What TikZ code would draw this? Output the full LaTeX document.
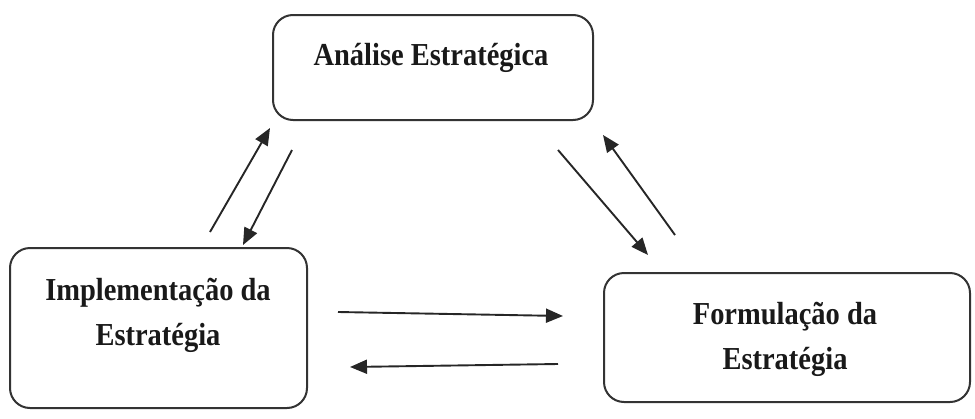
\documentclass[tikz,border=0pt]{standalone}
\usepackage{fontspec}
\setmainfont{Liberation Serif}
\newfontfamily\labelfont[FakeStretch=0.89]{Liberation Serif}
\usetikzlibrary{arrows.meta}
\begin{document}
\begin{tikzpicture}[x=1pt,y=-1pt,
  box/.style={draw=black!80, line width=2pt, rounded corners=20pt, inner sep=0pt},
  lbl/.style={font=\labelfont\bfseries\fontsize{32}{45}\selectfont, align=center, text=black!90, inner sep=0pt},
  conn/.style={draw=black!85, line width=1.9pt, -{Triangle[length=17pt,width=14pt]}}]
\useasboundingbox (0,0) rectangle (975,418);
% boxes
\node[box, minimum width=320pt, minimum height=105pt] (ana) at (433,67.5) {};
\node[box, minimum width=297pt, minimum height=160pt] (imp) at (158.5,328) {};
\node[box, minimum width=366pt, minimum height=129pt] (form) at (787,337.5) {};
% labels
\node[lbl] (anaT) at (431,58) {Análise Estratégica};
\node[lbl] (impT) at (158,315) {Implementação da\\Estratégia};
\node[lbl] (formT) at (785,339) {Formulação da\\Estratégia};
% connector end points
\coordinate (a1s) at (210,232); \coordinate (a1e) at (270,128);
\coordinate (a2s) at (292,150); \coordinate (a2e) at (243,245);
\coordinate (a3s) at (558,150); \coordinate (a3e) at (648,255);
\coordinate (a4s) at (675,235); \coordinate (a4e) at (603,135);
\coordinate (a5s) at (338,312); \coordinate (a5e) at (563,316);
\coordinate (a6s) at (558,364); \coordinate (a6e) at (350,367);
% connectors
\draw[conn] (a1s) -- (a1e);
\draw[conn] (a2s) -- (a2e);
\draw[conn] (a3s) -- (a3e);
\draw[conn] (a4s) -- (a4e);
\draw[conn] (a5s) -- (a5e);
\draw[conn] (a6s) -- (a6e);
\end{tikzpicture}
\end{document}
